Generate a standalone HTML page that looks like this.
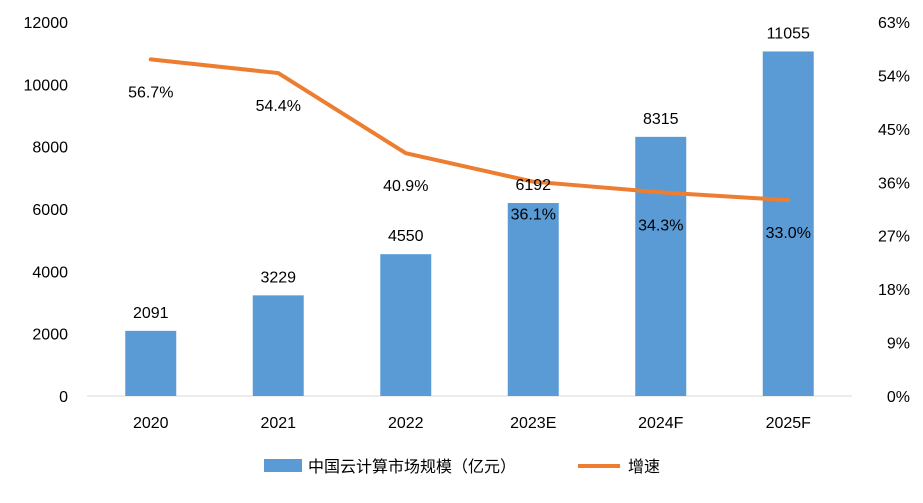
<!DOCTYPE html>
<html><head><meta charset="utf-8">
<style>
html,body{margin:0;padding:0;background:#fff;}
svg text{font-family:"Liberation Sans","Noto Sans CJK SC",sans-serif;font-size:16px;fill:#000;}
</style></head>
<body>
<svg id="chart" width="923" height="498" viewBox="0 0 923 498" xmlns="http://www.w3.org/2000/svg">
<g id="axes"></g><g id="bars"></g><g id="line"></g><g id="labels"></g>
<g>
<rect x="264" y="459" width="38" height="13" fill="#5b9bd5"/>
<text x="308" y="472">中国云计算市场规模（亿元）</text>
<line x1="578" y1="466" x2="620" y2="466" stroke="#ed7d31" stroke-width="4"/>
<text x="628" y="472">增速</text>
</g>
</svg>
<script>
const categories = ["2020","2021","2022","2023E","2024F","2025F"];
const marketSize = [2091,3229,4550,6192,8315,11055];
const growthRate = [56.7,54.4,40.9,36.1,34.3,33.0];
const leftTicks = [0,2000,4000,6000,8000,10000,12000];
const rightTicks = [0,9,18,27,36,45,54,63];

const NS="http://www.w3.org/2000/svg";
const plotL=87, plotR=852, plotT=22, plotB=396;
const step=(plotR-plotL)/categories.length;
const xC=i=>plotL+step*(i+0.5);
const yL=v=>plotB-(v/12000)*(plotB-plotT);
const yR=v=>plotB-(v/63)*(plotB-plotT);
function mk(tag,attrs,parent,text){const e=document.createElementNS(NS,tag);for(const k in attrs)e.setAttribute(k,attrs[k]);if(text!==undefined)e.textContent=text;document.getElementById(parent).appendChild(e);return e;}

const base=mk("line",{x1:plotL,x2:plotR,y1:plotB,y2:plotB,stroke:"#d9d9d9","stroke-width":1},"axes");


leftTicks.forEach(v=>{
  const t=mk("text",{x:68,y:yL(v)+6,"text-anchor":"end"},"axes",String(v));
  
  
});
rightTicks.forEach(v=>{
  const t=mk("text",{x:910,y:yR(v)+6,"text-anchor":"end"},"axes",v+"%");
  
  
});
categories.forEach((c,i)=>{
  const t=mk("text",{x:xC(i),y:428,"text-anchor":"middle"},"axes",c);
  
  
});
const bw=51;
marketSize.forEach((v,i)=>{
  const r=mk("rect",{x:xC(i)-bw/2,y:yL(v),width:bw,height:plotB-yL(v),fill:"#5b9bd5"},"bars");
  
  
  const t=mk("text",{x:xC(i),y:yL(v)-13,"text-anchor":"middle"},"labels",String(v));
  
  
});
const pts=growthRate.map((v,i)=>xC(i)+","+yR(v)).join(" ");
const pl=mk("polyline",{points:pts,fill:"none",stroke:"#ed7d31","stroke-width":4,"stroke-linejoin":"round","stroke-linecap":"round"},"line");


growthRate.forEach((v,i)=>{
  const t=mk("text",{x:xC(i),y:yR(v)+38,"text-anchor":"middle"},"labels",v.toFixed(1)+"%");
  
  
});
</script>
</body></html>
